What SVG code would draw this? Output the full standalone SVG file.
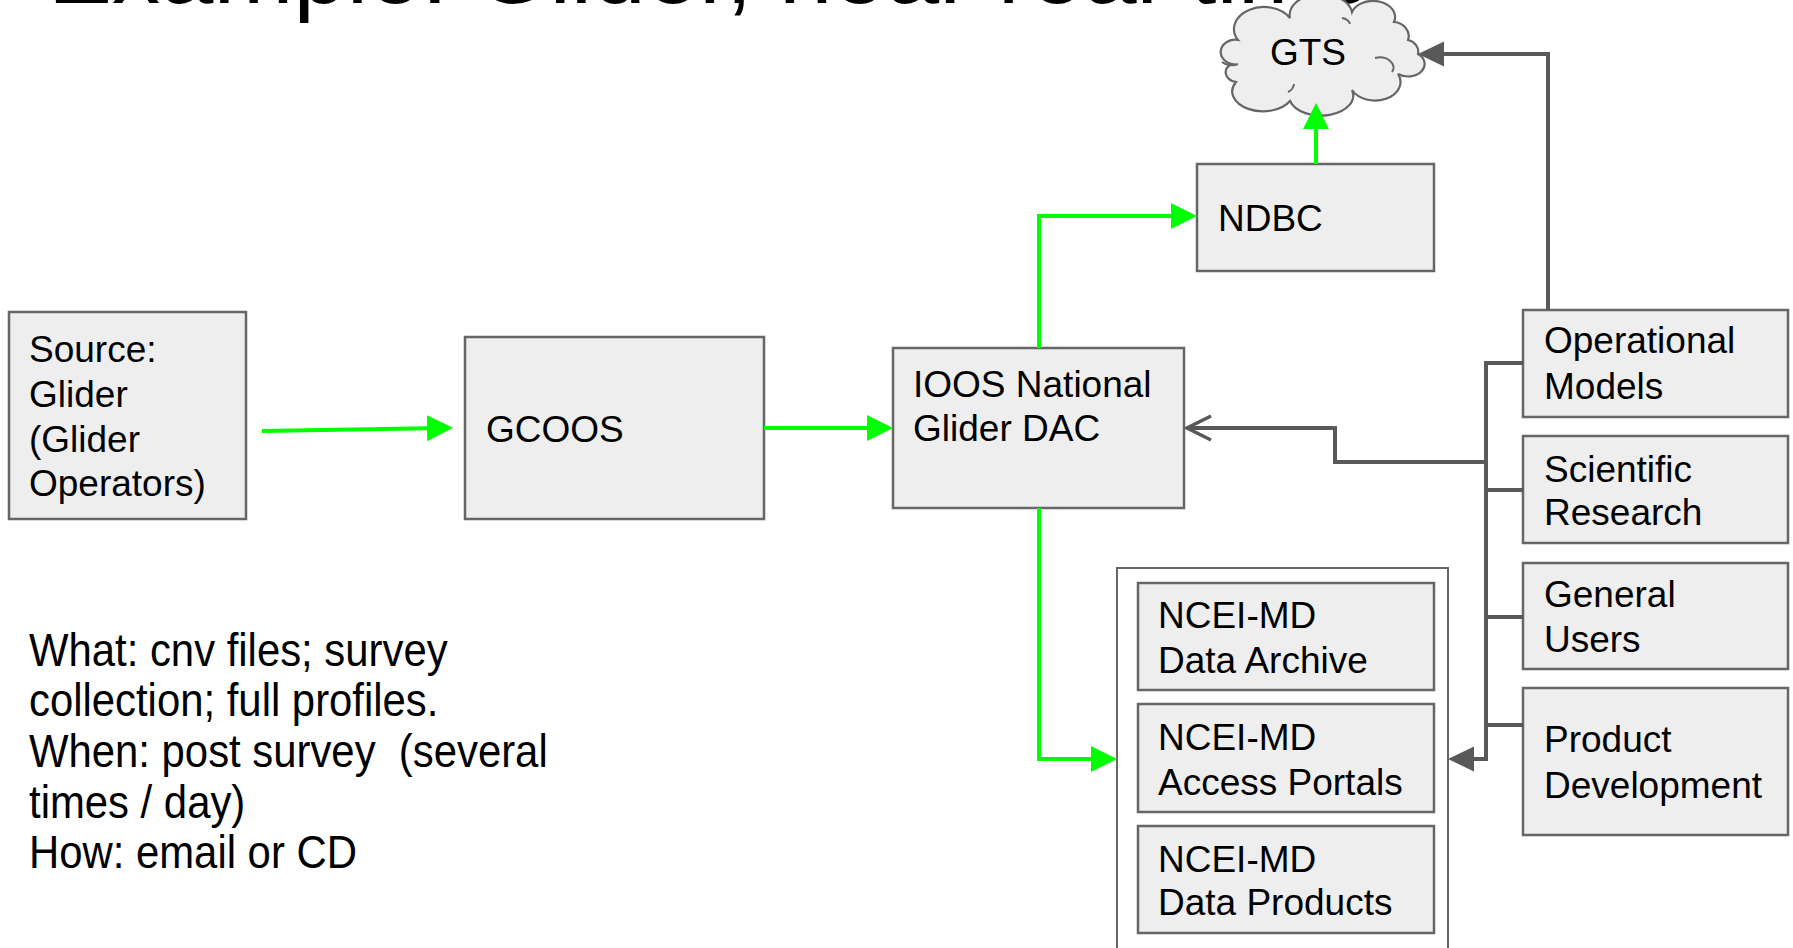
<svg xmlns="http://www.w3.org/2000/svg" width="1793" height="948" viewBox="0 0 1793 948">
<style>
.box{fill:#eeeeee;stroke:#666666;stroke-width:2.5}
.t{font-family:"Liberation Sans",Arial,sans-serif;font-size:37px;fill:#000}
.g{fill:none;stroke:#00ff00;stroke-width:4}
.k{fill:none;stroke:#595959;stroke-width:4}
.note{font-family:"Liberation Sans",Arial,sans-serif;font-size:46px;fill:#000}
.title{font-family:"Liberation Sans",Arial,sans-serif;font-size:96px;fill:#000}
</style>
<defs>
<marker id="ag" markerUnits="userSpaceOnUse" viewBox="0 0 26 26" refX="16" refY="13" markerWidth="26" markerHeight="26" orient="auto"><path d="M0,0 L26,13 L0,26 Z" fill="#00ff00"/></marker>
<marker id="ak" markerUnits="userSpaceOnUse" viewBox="0 0 26 26" refX="16" refY="13" markerWidth="26" markerHeight="26" orient="auto"><path d="M0,0.5 L26,13 L0,25.5 Z" fill="#595959"/></marker>
<marker id="av" markerUnits="userSpaceOnUse" viewBox="0 0 28 28" refX="26" refY="14" markerWidth="28" markerHeight="28" orient="auto"><path d="M2,2 L26,14 L2,26" fill="none" stroke="#595959" stroke-width="3.5"/></marker>
</defs>
<rect width="1793" height="948" fill="#ffffff"/>
<text class="title" x="48" y="3">Example: Glider, near real-time</text>

<g id="source"><rect class="box" x="9" y="312" width="237" height="207"/>
<text class="t"><tspan x="29" y="362">Source:</tspan><tspan x="29" y="407">Glider</tspan><tspan x="29" y="452">(Glider</tspan><tspan x="29" y="496">Operators)</tspan></text></g>

<g id="gcoos"><rect class="box" x="465" y="337" width="299" height="182"/>
<text class="t" x="486" y="442">GCOOS</text></g>

<g id="ioos"><rect class="box" x="893" y="348" width="291" height="160"/>
<text class="t"><tspan x="913" y="397">IOOS National</tspan><tspan x="913" y="441">Glider DAC</tspan></text></g>

<g id="ndbc"><rect class="box" x="1197" y="164" width="237" height="107"/>
<text class="t" x="1218" y="231">NDBC</text></g>

<g id="gts"><path d="M1236,82 A14,10 0 0 1 1232,64 A14,12 0 0 1 1238,40 A30,22 0 0 1 1290,18 A30,20 0 0 1 1352,12 A22,16 0 0 1 1394,22 A16,14 0 0 1 1408,40 A14,12 0 0 1 1418,54 A16,12 0 0 1 1398,74 A22,16 0 0 1 1352,90 A32,20 0 0 1 1290,101 A28,18 0 0 1 1236,82 Z" fill="#eeeeee" stroke="#666666" stroke-width="2.2"/>
<path d="M1375,58 A14,10 0 0 1 1392,72 M1222,62 A12,8 0 0 0 1238,64 M1288,92 A10,10 0 0 0 1294,84 M1342,18 A10,8 0 0 1 1350,24" fill="none" stroke="#666666" stroke-width="2"/>
<text class="t" x="1308" y="65" text-anchor="middle" font-size="36">GTS</text></g>

<g id="ncei"><rect x="1117" y="568" width="331" height="400" fill="#ffffff" stroke="#666666" stroke-width="2"/>
<rect class="box" x="1138" y="583" width="296" height="107"/>
<text class="t"><tspan x="1158" y="628">NCEI-MD</tspan><tspan x="1158" y="673">Data Archive</tspan></text>
<rect class="box" x="1138" y="704" width="296" height="108"/>
<text class="t"><tspan x="1158" y="750">NCEI-MD</tspan><tspan x="1158" y="795">Access Portals</tspan></text>
<rect class="box" x="1138" y="826" width="296" height="107"/>
<text class="t"><tspan x="1158" y="872">NCEI-MD</tspan><tspan x="1158" y="915">Data Products</tspan></text></g>

<g id="opmodels"><rect class="box" x="1523" y="310" width="265" height="107"/>
<text class="t"><tspan x="1544" y="353">Operational</tspan><tspan x="1544" y="399">Models</tspan></text></g>

<g id="sciresearch"><rect class="box" x="1523" y="436" width="265" height="107"/>
<text class="t"><tspan x="1544" y="482">Scientific</tspan><tspan x="1544" y="525">Research</tspan></text></g>

<g id="genusers"><rect class="box" x="1523" y="563" width="265" height="106"/>
<text class="t"><tspan x="1544" y="607">General</tspan><tspan x="1544" y="652">Users</tspan></text></g>

<g id="proddev"><rect class="box" x="1523" y="688" width="265" height="147"/>
<text class="t"><tspan x="1544" y="752">Product</tspan><tspan x="1544" y="798">Development</tspan></text></g>

<g id="notes" transform="translate(29,0) scale(0.91,1)"><text class="note" xml:space="preserve"><tspan x="0" y="666">What: cnv files; survey</tspan><tspan x="0" y="716">collection; full profiles.</tspan><tspan x="0" y="767">When: post survey  (several</tspan><tspan x="0" y="818">times / day)</tspan><tspan x="0" y="868">How: email or CD</tspan></text></g>

<g id="connectors">
<path class="g" d="M262,431 L443,428" marker-end="url(#ag)"/>
<path class="g" d="M764,428 L883,428" marker-end="url(#ag)"/>
<path class="g" d="M1039,348 L1039,216 L1187,216" marker-end="url(#ag)"/>
<path class="g" d="M1316,164 L1316,113" marker-end="url(#ag)"/>
<path class="g" d="M1039,508 L1039,759 L1107,759" marker-end="url(#ag)"/>
<path class="k" d="M1548,310 L1548,54 L1428,54" marker-end="url(#ak)"/>
<path class="k" d="M1523,363 L1486,363 L1486,759 L1458,759" marker-end="url(#ak)"/>
<path class="k" d="M1486,490 L1523,490 M1486,617 L1523,617 M1486,725 L1523,725"/>
<path class="k" d="M1486,462 L1335,462 L1335,428 L1187,428" marker-end="url(#av)"/>
</g>
</svg>
